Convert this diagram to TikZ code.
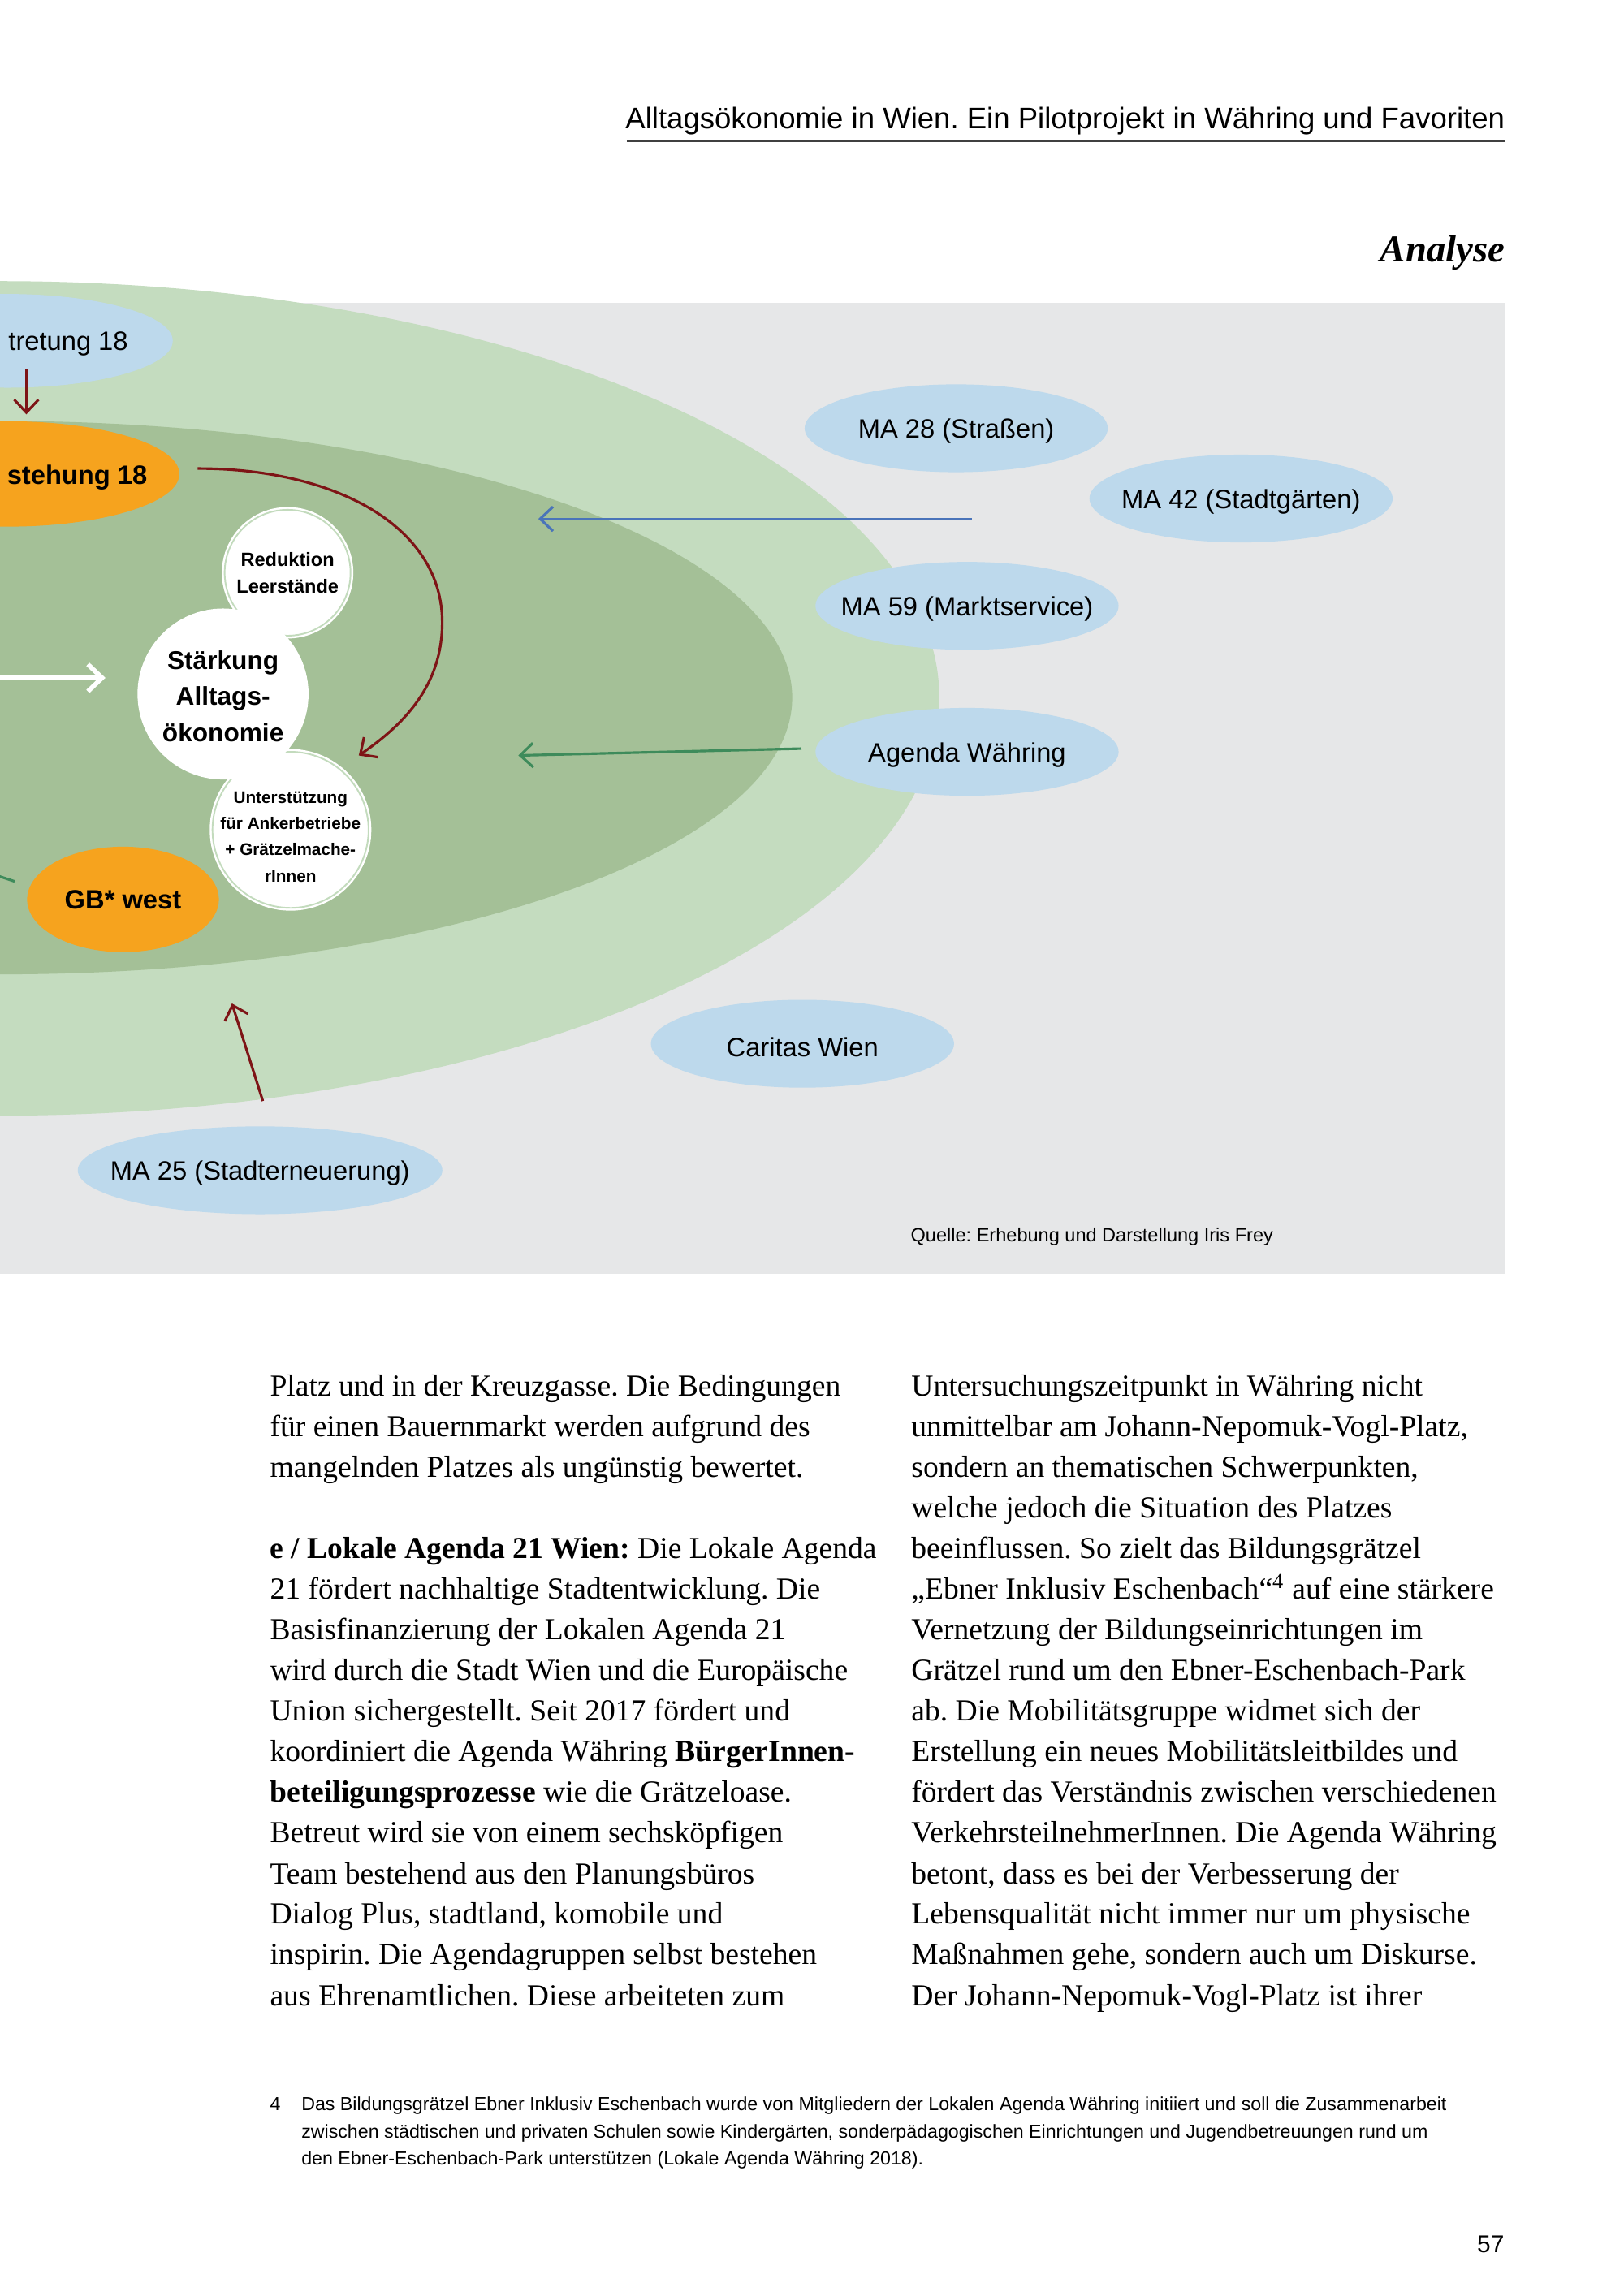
\documentclass[tikz,border=0pt]{standalone}
\usepackage{fontspec}
\setmainfont{Liberation Serif}
\setsansfont{Liberation Sans}
\usetikzlibrary{shapes.geometric,arrows.meta}
\definecolor{bggray}{HTML}{E6E7E8}
\definecolor{lgreen}{HTML}{C4DCBF}
\definecolor{dgreen}{HTML}{A4C097}
\definecolor{lblue}{HTML}{BDD9EC}
\definecolor{orng}{HTML}{F6A31E}
\definecolor{dred}{HTML}{7E1416}
\definecolor{ablue}{HTML}{4A74B9}
\definecolor{agreen}{HTML}{3E8B5B}
\definecolor{ringgreen}{HTML}{C3DBBD}
\def\pxu{0.51313pt}
\frenchspacing
\begin{document}
\begin{tikzpicture}[x=0.0180342cm,y=-0.0180342cm,
  blueell/.style={ellipse,fill=lblue,inner sep=0pt,minimum width=207*\pxu,minimum height=60*\pxu},
  lbl/.style={inner sep=0pt,yshift=-1.1pt,font=\sffamily\fontsize{9.3}{11}\selectfont},
  orangeell/.style={ellipse,fill=orng,inner sep=0pt},
  blbl/.style={inner sep=0pt,font=\sffamily\bfseries\fontsize{9.3}{11}\selectfont},
  lbltext/.style={inner sep=0pt,anchor=base west,font=\sffamily\fontsize{9.3}{11}\selectfont},
  whitecirc/.style={circle,fill=white,inner sep=0pt},
  ringcirc/.style={whitecirc,draw=white,double=ringgreen,double distance=0.55pt,line width=0.7pt},
  ctext/.style={inner sep=0pt,align=center},
  redarrow/.style={draw=dred,line width=0.9pt,-{Straight Barb[length=4.5pt,width=8.5pt]}},
  bluearrow/.style={draw=ablue,line width=0.9pt,-{Straight Barb[length=4.5pt,width=8.5pt]}},
  greenarrow/.style={draw=agreen,line width=0.9pt,-{Straight Barb[length=4.5pt,width=8.5pt]}},
  whitearrow/.style={draw=white,line width=1.6pt,-{Straight Barb[length=5pt,width=9.5pt]}},
  bodytext/.style={anchor=base west,inner sep=0pt,font=\fontsize{10.7}{14}\selectfont},
  foottext/.style={anchor=base west,inner sep=0pt,font=\sffamily\fontsize{6.6}{8}\selectfont}
]
\useasboundingbox (0,0) rectangle (1109,1568.2);
\clip (0,0) rectangle (1109,1568.2);
\fill[white] (0,0) rectangle (1109,1568.2);

% header
\node[anchor=base east,inner sep=0pt,font=\sffamily\fontsize{10.4}{12}\selectfont] (hdr) at (1028,87.8) {Alltagsökonomie in Wien. Ein Pilotprojekt in Währing und Favoriten};
\coordinate (ulA) at (428,96.5);
\coordinate (ulB) at (1028,96.5);
\draw[line width=0.5pt,black!75] (ulA) -- (ulB);
\node[anchor=base east,inner sep=0pt,font=\bfseries\itshape\fontsize{13.3}{15}\selectfont] (ana) at (1028,179) {Analyse};

% diagram background
\fill[bggray] (0,206.6) rectangle (1027.6,870);
\fill[lgreen] (0,477) ellipse [x radius=641.5,y radius=285];
\fill[dgreen] (0,476.5) ellipse [x radius=541,y radius=189];

% left nodes (cut at page edge)
\node[blueell,minimum width=226*\pxu,minimum height=64*\pxu] (bv) at (5,232.8) {};
\node[lbltext] (bvt) at (5.4,239.2) {tretung 18};
\node[orangeell,minimum width=235*\pxu,minimum height=72*\pxu] (ent) at (5,323.7) {};
\node[lbltext,font=\sffamily\bfseries\fontsize{9.3}{11}\selectfont] (entt) at (4.5,330.5) {stehung 18};
\node[orangeell,minimum width=131*\pxu,minimum height=72*\pxu,label={[blbl]center:GB* west}] (gb) at (84,614.3) {};

% right nodes
\node[blueell,label={[lbl]center:MA 28 (Straßen)}] (ma28) at (653,292.5) {};
\node[blueell,label={[lbl]center:MA 42 (Stadtgärten)}] (ma42) at (847.5,340.5) {};
\node[blueell,label={[lbl]center:MA 59 (Marktservice)}] (ma59) at (660.4,413.8) {};
\node[blueell,label={[lbl]center:Agenda Währing}] (agw) at (660.4,513.5) {};
\node[blueell,label={[lbl]center:Caritas Wien}] (car) at (548,712.9) {};
\node[blueell,minimum width=249*\pxu,label={[lbl]center:MA 25 (Stadterneuerung)}] (ma25) at (177.6,799.3) {};

% connectors
\coordinate (bvs) at (18,252);
\coordinate (bve) at (18,283);
\draw[redarrow] (bvs) -- (bve);
\coordinate (cvs) at (135,320);
\coordinate (cvm) at (302,425);
\coordinate (cve) at (245,516);
\draw[redarrow] (cvs) .. controls (230,320) and (302,360) .. (cvm) .. controls (302,465) and (280,492) .. (cve);
\coordinate (was) at (0,463);
\coordinate (wae) at (72,463);
\draw[whitearrow] (was) -- (wae);
\coordinate (bas) at (663.8,354.4);
\coordinate (bae) at (367.6,354.4);
\draw[bluearrow] (bas) -- (bae);
\coordinate (gas) at (547.3,511.3);
\coordinate (gae) at (354,516);
\draw[greenarrow] (gas) -- (gae);
\coordinate (ras) at (179.5,752);
\coordinate (rae) at (158.4,685.4);
\draw[redarrow] (ras) -- (rae);
\coordinate (gfs) at (-5,597);
\coordinate (gfe) at (10,602);
\draw[agreen,line width=0.9pt] (gfs) -- (gfe);

% circles
\node[ringcirc,minimum size=86*\pxu,label={[ctext,font=\sffamily\bfseries\fontsize{6.7}{9.3}\selectfont]center:Reduktion\\Leerstände}] (red) at (196.4,391.2) {};
\node[ringcirc,minimum size=106.6*\pxu,label={[ctext,yshift=-2.4pt,font=\sffamily\bfseries\fontsize{5.9}{9.2}\selectfont]center:Unterstützung\\für Ankerbetriebe\\+ Grätzelmache-\\rInnen}] (unt) at (198.4,566.8) {};
\node[whitecirc,minimum size=116.8*\pxu,label={[ctext,yshift=-0.8pt,font=\sffamily\bfseries\fontsize{9}{12.6}\selectfont]center:Stärkung\\Alltags-\\ökonomie}] (st) at (152.3,474) {};

\node[anchor=base west,inner sep=0pt,font=\sffamily\fontsize{6.7}{8}\selectfont] (src) at (621.6,848.4) {Quelle: Erhebung und Darstellung Iris Frey};

% body text, left column
\node[bodytext] (l0) at (184,953.7) {Platz und in der Kreuzgasse. Die Bedingungen};
\node[bodytext] (l1) at (184,981.4) {für einen Bauernmarkt werden aufgrund des};
\node[bodytext] (l2) at (184,1009.2) {mangelnden Platzes als ungünstig bewertet.};
\node[bodytext] (l4) at (184,1064.6) {\textbf{e / Lokale Agenda 21 Wien:} Die Lokale Agenda};
\node[bodytext] (l5) at (184,1092.4) {21 fördert nachhaltige Stadtentwicklung. Die};
\node[bodytext] (l6) at (184,1120.1) {Basisfinanzierung der Lokalen Agenda 21};
\node[bodytext] (l7) at (184,1147.8) {wird durch die Stadt Wien und die Europäische};
\node[bodytext] (l8) at (184,1175.5) {Union sichergestellt. Seit 2017 fördert und};
\node[bodytext] (l9) at (184,1203.3) {koordiniert die Agenda Währing \textbf{BürgerInnen-}};
\node[bodytext] (l10) at (184,1231.0) {\textbf{beteiligungsprozesse} wie die Grätzeloase.};
\node[bodytext] (l11) at (184,1258.7) {Betreut wird sie von einem sechsköpfigen};
\node[bodytext] (l12) at (184,1286.5) {Team bestehend aus den Planungsbüros};
\node[bodytext] (l13) at (184,1314.2) {Dialog Plus, stadtland, komobile und};
\node[bodytext] (l14) at (184,1341.9) {inspirin. Die Agendagruppen selbst bestehen};
\node[bodytext] (l15) at (184,1369.7) {aus Ehrenamtlichen. Diese arbeiteten zum};

% body text, right column
\node[bodytext] (r0) at (622,953.7) {Untersuchungszeitpunkt in Währing nicht};
\node[bodytext] (r1) at (622,981.4) {unmittelbar am Johann-Nepomuk-Vogl-Platz,};
\node[bodytext] (r2) at (622,1009.2) {sondern an thematischen Schwerpunkten,};
\node[bodytext] (r3) at (622,1036.9) {welche jedoch die Situation des Platzes};
\node[bodytext] (r4) at (622,1064.6) {beeinflussen. So zielt das Bildungsgrätzel};
\node[bodytext] (r5) at (622,1092.4) {„Ebner Inklusiv Eschenbach“\textsuperscript{4} auf eine stärkere};
\node[bodytext] (r6) at (622,1120.1) {Vernetzung der Bildungseinrichtungen im};
\node[bodytext] (r7) at (622,1147.8) {Grätzel rund um den Ebner-Eschenbach-Park};
\node[bodytext] (r8) at (622,1175.5) {ab. Die Mobilitätsgruppe widmet sich der};
\node[bodytext] (r9) at (622,1203.3) {Erstellung ein neues Mobilitätsleitbildes und};
\node[bodytext] (r10) at (622,1231.0) {fördert das Verständnis zwischen verschiedenen};
\node[bodytext] (r11) at (622,1258.7) {VerkehrsteilnehmerInnen. Die Agenda Währing};
\node[bodytext] (r12) at (622,1286.5) {betont, dass es bei der Verbesserung der};
\node[bodytext] (r13) at (622,1314.2) {Lebensqualität nicht immer nur um physische};
\node[bodytext] (r14) at (622,1341.9) {Maßnahmen gehe, sondern auch um Diskurse.};
\node[bodytext] (r15) at (622,1369.7) {Der Johann-Nepomuk-Vogl-Platz ist ihrer};

% footnote
\node[foottext] (fn) at (184,1441.5) {4};
\node[foottext] (f1) at (205.5,1441.5) {Das Bildungsgrätzel Ebner Inklusiv Eschenbach wurde von Mitgliedern der Lokalen Agenda Währing initiiert und soll die Zusammenarbeit};
\node[foottext] (f2) at (205.5,1460.2) {zwischen städtischen und privaten Schulen sowie Kindergärten, sonderpädagogischen Einrichtungen und Jugendbetreuungen rund um};
\node[foottext] (f3) at (205.5,1478.9) {den Ebner-Eschenbach-Park unterstützen (Lokale Agenda Währing 2018).};

\node[anchor=base east,inner sep=0pt,font=\sffamily\fontsize{8.5}{10}\selectfont] (pg) at (1027.6,1538.5) {57};
\end{tikzpicture}
\end{document}
